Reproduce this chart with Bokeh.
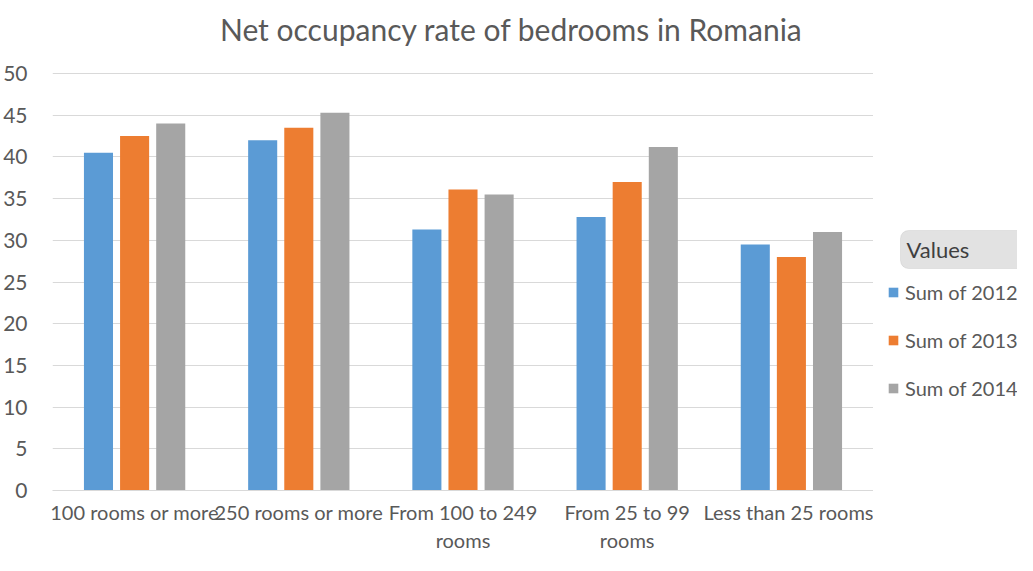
from bokeh.plotting import figure
from bokeh.layouts import row
from bokeh.models import (Range1d, FixedTicker, Label, BoxAnnotation, Legend, LegendItem,
                          ColumnDataSource)
from bokeh.embed import file_html
from bokeh.resources import INLINE

categories = ["100 rooms or more", "250 rooms or more", "From 100 to 249 rooms",
              "From 25 to 99 rooms", "Less than 25 rooms"]
tick_labels = ["100 rooms or more", "250 rooms or more", "From 100 to 249\nrooms",
               "From 25 to 99\nrooms", "Less than 25 rooms"]
series_names = ["Sum of 2012", "Sum of 2013", "Sum of 2014"]
sum_2012 = [40.5, 42.0, 31.3, 32.8, 29.5]
sum_2013 = [42.5, 43.5, 36.1, 37.0, 28.0]
sum_2014 = [44.0, 45.3, 35.5, 41.2, 31.0]
y_ticks = [0, 5, 10, 15, 20, 25, 30, 35, 40, 45, 50]
y_max = 50
title_text = "Net occupancy rate of bedrooms in Romania"
legend_title = "Values"

FONT = "Lato"
TXT = "#595959"
colors = ["#5b9bd5", "#ed7d31", "#a5a5a5"]

# layout constants (pixels)
H = 555
BOTTOM = 65                 # space under the plot area for the category labels
G = H - BOTTOM              # y pixel of the value 0 line
TOP_PX = 73                 # y pixel of the value 50 line
y_end = y_max * G / (G - TOP_PX)   # extra headroom above 50 hosts the title

# ---------- main chart ----------
p = figure(width=873, height=H, output_backend="svg", toolbar_location=None,
           x_range=Range1d(0.5, 5.5), y_range=Range1d(0, y_end),
           min_border_left=52, min_border_right=0, min_border_top=0,
           min_border_bottom=BOTTOM)
p.title.text = ""
p.outline_line_color = None
p.background_fill_color = "white"
p.border_fill_color = "white"

xs = list(range(1, len(categories) + 1))
offsets = [-0.22, 0.0, 0.22]
for vals, off, col in zip([sum_2012, sum_2013, sum_2014], offsets, colors):
    p.vbar(x=[x + off for x in xs], top=vals, width=0.177, bottom=0,
           fill_color=col, line_color=None)

p.xaxis.ticker = FixedTicker(ticks=xs)
p.xaxis.major_label_overrides = {x: lab for x, lab in zip(xs, tick_labels)}
p.yaxis.ticker = FixedTicker(ticks=y_ticks)
for ax in (p.xaxis, p.yaxis):
    ax.major_tick_line_color = None
    ax.minor_tick_line_color = None
    ax.major_label_text_font = FONT
    ax.major_label_text_color = TXT
p.yaxis.major_label_text_font_size = "21px"
p.xaxis.major_label_text_font_size = "20px"
p.yaxis.axis_line_color = None
p.yaxis.major_label_standoff = 19
p.xaxis.axis_line_color = "#d9d9d9"
p.xaxis.major_label_standoff = 3
p.xgrid.grid_line_color = None
p.ygrid.grid_line_color = "#d9d9d9"
p.ygrid.ticker = FixedTicker(ticks=y_ticks)

p.add_layout(Label(x=459, y=G - 28, x_units="screen", y_units="screen",
                   text=title_text, text_font=FONT, text_font_size="30px",
                   text_color=TXT, text_align="center", text_baseline="alphabetic"))

# ---------- legend panel ----------
q = figure(width=144, height=H, output_backend="svg", toolbar_location=None,
           x_range=Range1d(0, 144), y_range=Range1d(0, H),
           min_border=0, min_border_left=0, min_border_right=0,
           min_border_top=0, min_border_bottom=0)
q.axis.visible = False
q.grid.grid_line_color = None
q.outline_line_color = None
q.background_fill_color = "white"
q.border_fill_color = "white"

q.add_layout(BoxAnnotation(left=27, right=170, bottom=G - 268, top=G - 230,
                           left_units="screen", right_units="screen",
                           bottom_units="screen", top_units="screen",
                           fill_color="#e2e2e2", fill_alpha=1.0,
                           line_color="#bcbcbc", line_width=1, border_radius=8))
q.add_layout(Label(x=33, y=G - 249, x_units="screen", y_units="screen", text=legend_title,
                   text_font=FONT, text_font_size="22px", text_color="#3f3f3f",
                   text_baseline="middle"))

nan = float("nan")
proxy_src = ColumnDataSource(data=dict(x=[nan], top=[nan]))
proxies = [q.vbar(x="x", top="top", width=1, source=proxy_src, fill_color=c, line_color=None)
           for c in colors]
legend = Legend(items=[LegendItem(label=n, renderers=[r]) for n, r in zip(series_names, proxies)],
                location=(14, G - 401), orientation="vertical",
                glyph_width=12, glyph_height=12, label_standoff=6,
                label_text_font=FONT, label_text_font_size="20px", label_text_color=TXT,
                label_height=26, spacing=22, padding=0, margin=0,
                border_line_color=None, background_fill_alpha=0)
q.add_layout(legend, "center")

open("out.html", "w").write(file_html(row(p, q), INLINE))
